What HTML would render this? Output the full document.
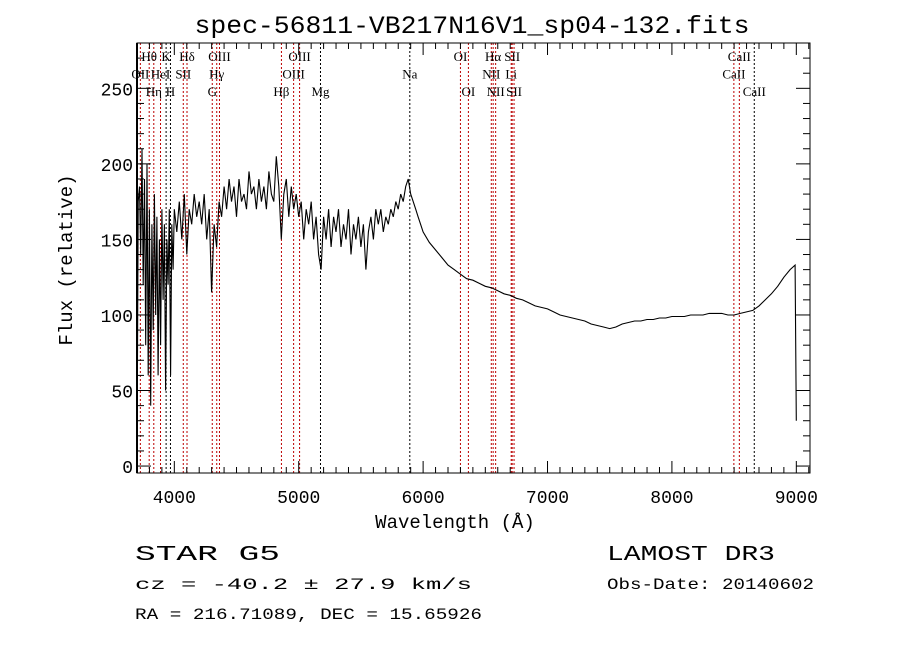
<!DOCTYPE html>
<html><head><meta charset="utf-8"><style>
body{margin:0;background:#fff;}
svg{display:block;font-family:"Liberation Mono",monospace;}
</style></head><body>
<svg id="chart" width="900" height="649" viewBox="0 0 900 649" xmlns="http://www.w3.org/2000/svg">
<rect width="900" height="649" fill="#fff"/>
<text x="472" y="33" text-anchor="middle" font-size="25" textLength="555" lengthAdjust="spacingAndGlyphs">spec-56811-VB217N16V1_sp04-132.fits</text>
<g id="lines"></g>
<g id="labels" font-family="Liberation Serif,serif" font-size="13"></g>
<polyline id="spec" fill="none" stroke="#000" stroke-width="1.1"/>
<g id="axes"></g>
<text x="455" y="528" text-anchor="middle" font-size="19">Wavelength (Å)</text>
<text transform="translate(72,260) rotate(-90)" text-anchor="middle" font-size="19">Flux (relative)</text>
<text x="135" y="560" font-size="21" textLength="145" lengthAdjust="spacingAndGlyphs">STAR   G5</text>
<text x="607" y="560" font-size="21" textLength="168" lengthAdjust="spacingAndGlyphs">LAMOST DR3</text>
<text x="135" y="589" font-size="16" textLength="337" lengthAdjust="spacingAndGlyphs">cz = -40.2 ± 27.9 km/s</text>
<text x="607" y="589" font-size="16" textLength="207" lengthAdjust="spacingAndGlyphs">Obs-Date: 20140602</text>
<text x="135" y="619" font-size="16" textLength="347" lengthAdjust="spacingAndGlyphs">RA = 216.71089, DEC =  15.65926</text>
</svg>
<script>
const wavelengths=[3700,3710,3720,3730,3740,3750,3760,3770,3780,3790,3800,3810,3820,3830,3840,3850,3860,3870,3880,3890,3900,3910,3920,3930,3940,3950,3960,3970,3980,3990,4000,
4020,4040,4060,4080,4100,4120,4140,4160,4180,4200,4220,4240,4260,4280,4300,4320,4340,4360,4380,4400,4420,4440,4460,4480,4500,4520,4540,4560,4580,4600,4620,4640,4660,4680,4700,4720,4740,4760,4780,4800,4820,4840,4860,4880,4900,4920,4940,4960,4980,5000,5020,5040,5060,5080,5100,5120,5140,5160,5180,5200,5220,5240,5260,5280,5300,5320,5340,5360,5380,5400,5420,5440,5460,5480,5500,5520,5540,5560,5580,5600,5620,5640,5660,5680,5700,5720,5740,5760,5780,5800,5820,5840,5860,5880,5900,5920,5940,5960,5980,6000,
6050,6100,6150,6200,6250,6300,6350,6400,6450,6500,6550,6600,6650,6700,6750,6800,6850,6900,6950,7000,7050,7100,7150,7200,7250,7300,7350,7400,7450,7500,7550,7600,7650,7700,7750,7800,7850,7900,7950,8000,8050,8100,8150,8200,8250,8300,8350,8400,8450,8500,8550,8600,8650,8700,8750,8800,8850,8900,8950,8990,9000];
const fluxes=[0,175,185,140,210,120,190,80,200,60,170,40,160,90,180,100,165,60,150,80,170,110,160,50,150,120,170,60,160,130,170,
155,175,150,180,140,170,160,180,165,175,160,180,150,170,115,160,145,175,165,185,170,190,175,185,165,190,175,180,170,195,180,185,170,190,175,185,170,195,180,175,205,185,150,180,190,165,185,170,180,165,175,150,170,160,175,150,165,140,130,165,150,170,145,165,155,170,145,160,150,170,140,160,150,165,145,160,130,155,165,150,170,160,170,155,165,160,170,165,175,170,180,175,185,190,180,175,170,165,160,155,
148,143,138,133,130,127,124,123,121,119,118,116,114,113,111,110,108,106,105,104,102,100,99,98,97,96,94,93,92,91,92,94,95,96,96,97,97,98,98,99,99,99,100,100,100,101,101,101,100,100,101,102,103,106,110,114,119,125,130,133,30];
const lineWaves=[3727,3798,3835,3889,3934,3969,4072,4102,4305,4341,4363,4861,4959,5007,5175,5893,6300,6364,6548,6563,6583,6708,6716,6731,8498,8542,8662];
const lineColors=["#b00","#b00","#b00","#b00","#000","#000","#b00","#b00","#b00","#b00","#b00","#b00","#b00","#b00","#000","#000","#b00","#b00","#b00","#b00","#b00","#b00","#b00","#b00","#b00","#b00","#000"];
const labelText=["OII","Hθ","Hη","HeI","K","H","SII","Hδ","G","Hγ","OIII","Hβ","OIII","OIII","Mg","Na","OI","OI","NII","Hα","NII","Li","SII","SII","CaII","CaII","CaII"];
const labelRow=[1,0,2,1,0,2,1,0,2,1,0,2,1,0,2,1,0,2,1,0,2,1,0,2,1,0,2];
const xTicks=[4000,5000,6000,7000,8000,9000];
const yTicks=[0,50,100,150,200,250];
const X0=137,X1=810,Y0=43,Y1=473,XMIN=3700,XMAX=9110,YMIN=-4.6,YMAX=280;
const sx=w=>X0+(w-XMIN)/(XMAX-XMIN)*(X1-X0);
const sy=f=>Y1-(f-YMIN)/(YMAX-YMIN)*(Y1-Y0);
const NS="http://www.w3.org/2000/svg";
function mk(t,a,p){const e=document.createElementNS(NS,t);for(const k in a)e.setAttribute(k,a[k]);p.appendChild(e);return e;}
document.getElementById('spec').setAttribute('points',wavelengths.map((w,i)=>sx(w).toFixed(1)+','+sy(fluxes[i]).toFixed(1)).join(' '));
const gl=document.getElementById('lines'),glab=document.getElementById('labels');
lineWaves.forEach((w,i)=>{
 const l=mk('line',{x1:sx(w),x2:sx(w),y1:Y0,y2:Y1,stroke:lineColors[i],'stroke-width':1,'stroke-dasharray':'2,2'},gl);
 
 
 const t=mk('text',{x:sx(w),y:61+labelRow[i]*17.5,'text-anchor':'middle'},glab);
 t.textContent=labelText[i];
 
 
});
const ga=document.getElementById('axes');
mk('rect',{x:X0,y:Y0,width:X1-X0,height:Y1-Y0,fill:'none',stroke:'#000','stroke-width':1},ga);
mk('line',{x1:X0,x2:X0,y1:Y0,y2:Y1,stroke:'#000','stroke-width':2},ga);
for(let w=3800;w<=9100;w+=100){const maj=w%1000===0,len=maj?12:6;
 mk('line',{x1:sx(w),x2:sx(w),y1:Y1,y2:Y1-len,stroke:'#000'},ga);
 mk('line',{x1:sx(w),x2:sx(w),y1:Y0,y2:Y0+len,stroke:'#000'},ga);}
for(let f=0;f<=280;f+=10){const maj=f%50===0,len=maj?14:7;
 mk('line',{x1:X0,x2:X0+len,y1:sy(f),y2:sy(f),stroke:'#000'},ga);
 mk('line',{x1:X1,x2:X1-len,y1:sy(f),y2:sy(f),stroke:'#000'},ga);}
xTicks.forEach(v=>{const t=mk('text',{x:sx(v),y:503,'text-anchor':'middle','font-size':18},ga);t.textContent=v;
 
 });
yTicks.forEach(v=>{const t=mk('text',{x:133,y:sy(v)+7,'text-anchor':'end','font-size':18},ga);t.textContent=v;
 
 });
</script>
</body></html>
